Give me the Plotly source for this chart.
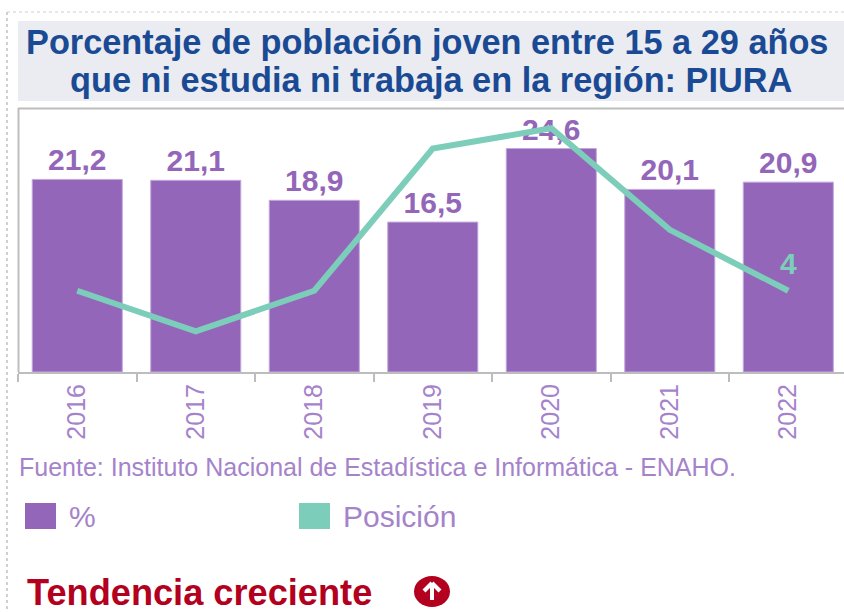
import plotly.graph_objects as go

years = ["2016", "2017", "2018", "2019", "2020", "2021", "2022"]
pct = [21.2, 21.1, 18.9, 16.5, 24.6, 20.1, 20.9]
pct_labels = ["21,2", "21,1", "18,9", "16,5", "24,6", "20,1", "20,9"]
position = [4, 2, 4, 11, 12, 7, 4]
position_labels = ["", "", "", "", "", "", "4"]

W, H = 844, 612
PURPLE = "#9466b9"
TEAL = "#7dcdbb"
LIGHT = "#a583cb"
RED = "#b3001e"
BLUE = "#1b4a94"
GRAY = "#bdbdbd"
FONT = "Liberation Sans, Arial, sans-serif"

def px(x): return x / W
def py(y): return 1 - y / H

fig = go.Figure()
fig.add_trace(go.Bar(x=years, y=pct, text=pct_labels, textposition="outside",
                     marker=dict(color=PURPLE, line=dict(color="#c3a9dc", width=1)),
                     textfont=dict(color=PURPLE, size=30, family=FONT, weight="bold"),
                     cliponaxis=False, name="%"))
fig.add_trace(go.Scatter(x=years, y=position, yaxis="y2", mode="lines+markers+text",
                         text=position_labels, textposition="top center",
                         line=dict(color=TEAL, width=6, shape="linear"),
                         marker=dict(size=14, opacity=0, color=TEAL),
                         textfont=dict(color=TEAL, size=30, family=FONT, weight="bold"),
                         cliponaxis=False, name="Posición"))

def box(kind, x0, x1, y0, y1, **kw):
    return dict(type=kind, xref="paper", yref="paper", x0=px(x0), x1=px(x1), y0=py(y0), y1=py(y1), **kw)

shapes = [
    box("rect", 18, 844, 21, 101, fillcolor="#eaecf1", line_width=0, layer="below"),
    box("line", 7, 844, 12, 12, line=dict(color="#d0d0d0", width=1, dash="dot")),
    box("line", 7, 7, 12, 612, line=dict(color="#d0d0d0", width=2, dash="dot")),
    box("line", 18, 844, 108.5, 108.5, line=dict(color=GRAY, width=2)),
    box("line", 18.5, 18.5, 108, 372, line=dict(color=GRAY, width=2)),
    box("rect", 25, 56, 503, 529, fillcolor=PURPLE, line_width=0),
    box("rect", 299, 330, 503, 529, fillcolor=TEAL, line_width=0),
    box("circle", 414, 450, 576, 607, fillcolor=RED, line_width=0),
    box("line", 432, 432, 583, 600, line=dict(color="white", width=4)),
    box("line", 424, 432, 591, 583, line=dict(color="white", width=4)),
    box("line", 440, 432, 591, 583, line=dict(color="white", width=4)),
]

def note(text, x, y, size, color, bold=False, anchor="left"):
    return dict(text=text, x=px(x), y=py(y), xref="paper", yref="paper", xanchor=anchor, yanchor="middle",
                showarrow=False, font=dict(size=size, color=color, family=FONT, weight="bold" if bold else "normal"))

annotations = [
    note("Porcentaje de población joven entre 15 a 29 años", 427, 42, 34.3, BLUE, True, "center"),
    note("que ni estudia ni trabaja en la región: PIURA", 431, 80, 34.3, BLUE, True, "center"),
    note("Fuente: Instituto Nacional de Estadística e Informática - ENAHO.", 17, 467, 25, LIGHT),
    note("%", 67, 516, 30, LIGHT),
    note("Posición", 341, 516, 30, LIGHT),
    note("Tendencia creciente", 25, 592, 36.2, RED, True),
]

fig.update_layout(
    width=W, height=H, margin=dict(l=0, r=0, t=0, b=0), autosize=False,
    paper_bgcolor="white", plot_bgcolor="white", showlegend=False, bargap=0.24,
    font=dict(family=FONT),
    xaxis=dict(type="category", domain=[px(18), 1], range=[-0.5, 6.47], showgrid=False,
               showline=True, linecolor=GRAY, linewidth=2,
               ticks="outside", ticklen=8, tickcolor=GRAY, tickwidth=2, tickson="boundaries",
               tickangle=-90, tickfont=dict(size=25, color=LIGHT, family=FONT)),
    yaxis=dict(domain=[py(372), py(108)], range=[0, 29.06], visible=False),
    yaxis2=dict(overlaying="y", range=[0, 13], visible=False),
    shapes=shapes, annotations=annotations,
)
fig.write_html("out.html", config={"displayModeBar": False},
               post_script="document.body.style.margin='0';document.documentElement.style.overflow='hidden';")
